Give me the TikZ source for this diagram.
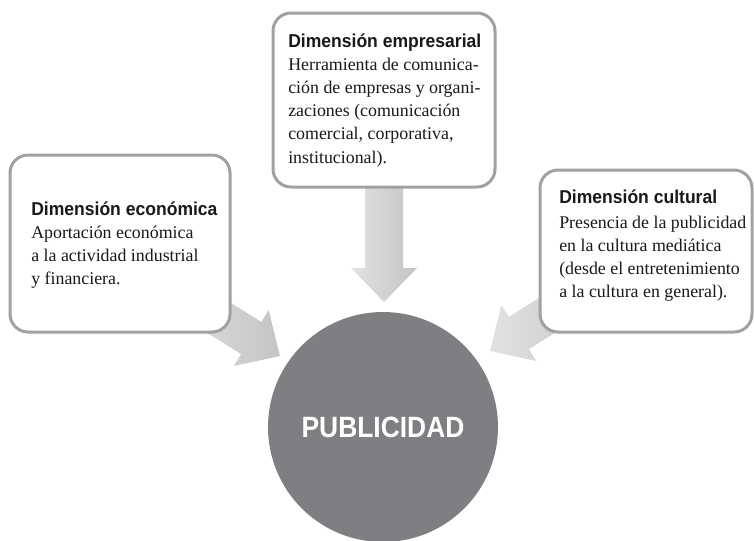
\documentclass[tikz,border=0pt]{standalone}
\usepackage{fontspec}
\setmainfont{Liberation Serif}
\newfontfamily\titlefont{Liberation Sans}[FakeStretch=0.94]
\newfontfamily\pubfont{Liberation Sans}[FakeStretch=0.9]
\usetikzlibrary{calc}
\definecolor{boxline}{HTML}{A0A1A4}
\definecolor{circfill}{HTML}{7E7F82}
\definecolor{arrlight}{HTML}{E2E2E4}
\definecolor{arrdark}{HTML}{C4C4C6}
\tikzset{
  boxshape/.style={draw=boxline, line width=2.25pt, fill=white, rounded corners=13.5pt, inner sep=0pt},
  ttl/.style={anchor=base west, inner sep=0pt, font=\titlefont\bfseries\fontsize{14}{16}\selectfont, text=black!90},
  body/.style={anchor=base west, inner sep=0pt, font=\fontsize{13.4}{17}\selectfont, text=black!90},
  arrfill/.style={left color=arrlight, right color=arrdark, draw=none},
}
\newcommand{\fatarrow}[3]{%
  \begin{scope}[shift={(#1)}, rotate=#2]
    \shade[arrfill] (0,0) -- (-34,33) -- (-34,19) -- (-#3,19) -- (-#3,-19) -- (-34,-19) -- (-34,-33) -- cycle;
  \end{scope}}
\begin{document}
\begin{tikzpicture}[x=0.75pt,y=-0.75pt]
\useasboundingbox (0,0) rectangle (754,540);
% centre
\node[circle, fill=circfill, minimum size=172.5pt, inner sep=0pt,
      font=\pubfont\bfseries\fontsize{22}{24}\selectfont, text=white] (pub) at (383,427) {PUBLICIDAD};
\coordinate (tipT) at ($(pub.center)+(1,-125)$);
\coordinate (tipL) at ($(pub.center)+(-103,-71)$);
\coordinate (tipR) at ($(pub.center)+(107,-76)$);
% arrows
\fatarrow{tipT}{-90}{130}
\fatarrow{tipL}{-32}{130}
\fatarrow{tipR}{-148}{130}
% boxes
\node[boxshape, minimum width=166.5pt, minimum height=130.5pt] (emp) at (384,100) {};
\node[boxshape, minimum width=165pt, minimum height=132.75pt] (eco) at (120,243.5) {};
\node[boxshape, minimum width=159pt, minimum height=121.5pt] (cul) at (646,251) {};
% texts: empresarial
\node[ttl] (empT) at (288,47) {Dimensión empresarial};
\foreach \l [count=\i] in {{Herramienta de comunica-}, {ción de empresas y organi-}, {zaciones (comunicación}, {comercial, corporativa,}, {institucional).}}
  \node[body] (empB\i) at (288,{70+23.3*(\i-1)}) {\l};
% económica
\node[ttl] (ecoT) at (31,215) {Dimensión económica};
\foreach \l [count=\i] in {{Aportación económica}, {a la actividad industrial}, {y financiera.}}
  \node[body] (ecoB\i) at (31,{238+23*(\i-1)}) {\l};
% cultural
\node[ttl] (culT) at (559,203) {Dimensión cultural};
\foreach \l [count=\i] in {{Presencia de la publicidad}, {en la cultura mediática}, {(desde el entretenimiento}, {a la cultura en general).}}
  \node[body] (culB\i) at (559,{228+23.3*(\i-1)}) {\l};
\end{tikzpicture}
\end{document}
